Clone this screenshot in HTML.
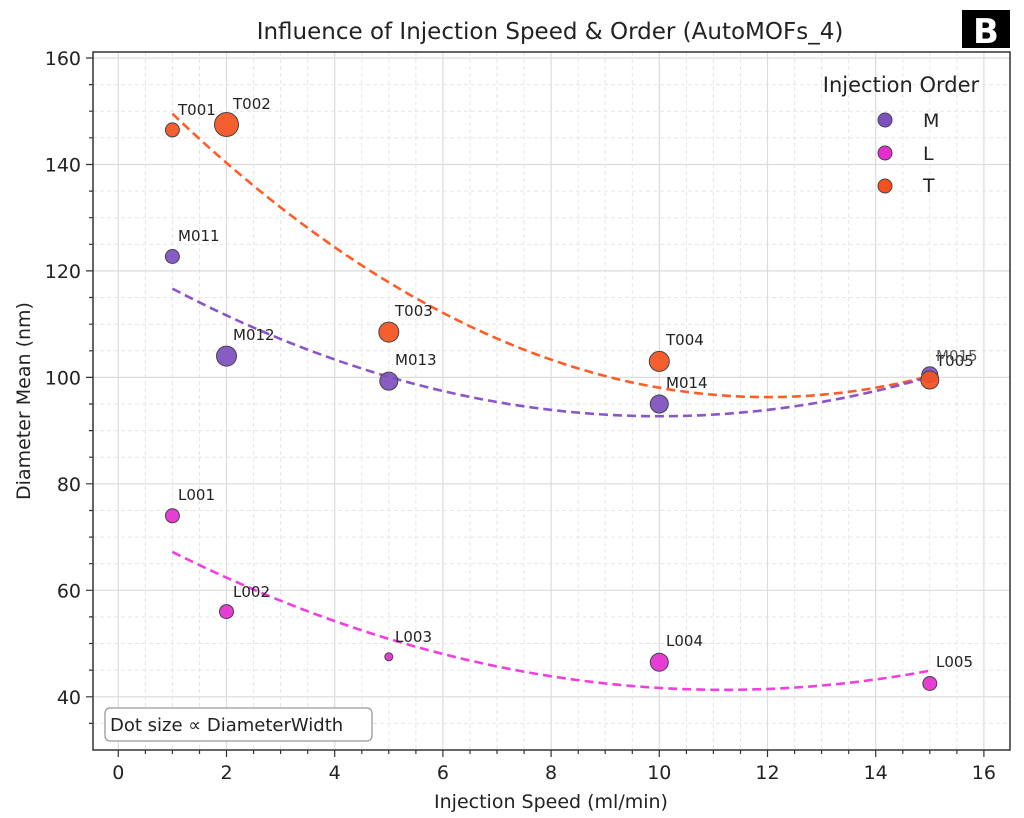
<!DOCTYPE html>
<html><head><meta charset="utf-8"><style>
html,body{margin:0;padding:0;background:#fff;}
svg{display:block;font-family:"DejaVu Sans","Liberation Sans",sans-serif;}
</style></head><body>
<svg width="1024" height="818" viewBox="0 0 1024 818" xmlns="http://www.w3.org/2000/svg">
<rect width="1024" height="818" fill="#fff"/>
<g stroke="#e6e6e6" stroke-width="1" stroke-dasharray="4,3">
<path d="M145.4 52V750M199.5 52V750M253.6 52V750M307.7 52V750M361.8 52V750M415.9 52V750M470 52V750M524.1 52V750M578.2 52V750M632.3 52V750M686.4 52V750M740.5 52V750M794.6 52V750M848.7 52V750M902.8 52V750M956.9 52V750
M172.4 52V750M280.6 52V750M388.8 52V750M497 52V750M605.2 52V750M713.4 52V750M821.6 52V750M929.8 52V750"/>
<path d="M93 84.6H1010M93 111.2H1010M93 137.8H1010M93 191.1H1010M93 217.7H1010M93 244.3H1010M93 297.5H1010M93 324.2H1010M93 350.8H1010M93 404H1010M93 430.6H1010M93 457.2H1010M93 510.5H1010M93 537.1H1010M93 563.7H1010M93 616.9H1010M93 643.5H1010M93 670.1H1010M93 723.4H1010"/>
</g>
<g stroke="#dcdcdc" stroke-width="1.2">
<path d="M118.3 52V750M226.5 52V750M334.7 52V750M442.9 52V750M551.1 52V750M659.3 52V750M767.5 52V750M875.7 52V750M983.9 52V750"/>
<path d="M93 58H1010M93 164.5H1010M93 270.9H1010M93 377.4H1010M93 483.8H1010M93 590.3H1010M93 696.8H1010"/>
</g>
<rect x="93" y="52" width="917" height="698" fill="none" stroke="#333" stroke-width="1.5"/>
<g stroke="#333" stroke-width="1.2">
<path d="M118.3 750v7M226.5 750v7M334.7 750v7M442.9 750v7M551.1 750v7M659.3 750v7M767.5 750v7M875.7 750v7M983.9 750v7"/>
<path d="M145.4 750v4M172.4 750v4M199.5 750v4M253.6 750v4M280.6 750v4M307.7 750v4M361.8 750v4M388.8 750v4M415.9 750v4M470 750v4M497 750v4M524.1 750v4M578.2 750v4M605.2 750v4M632.3 750v4M686.4 750v4M713.4 750v4M740.5 750v4M794.6 750v4M821.6 750v4M848.7 750v4M902.8 750v4M929.8 750v4M956.9 750v4"/>
<path d="M93 58h-7M93 164.5h-7M93 270.9h-7M93 377.4h-7M93 483.8h-7M93 590.3h-7M93 696.8h-7"/>
<path d="M93 84.6h-4M93 111.2h-4M93 137.8h-4M93 191.1h-4M93 217.7h-4M93 244.3h-4M93 297.5h-4M93 324.2h-4M93 350.8h-4M93 404h-4M93 430.6h-4M93 457.2h-4M93 510.5h-4M93 537.1h-4M93 563.7h-4M93 616.9h-4M93 643.5h-4M93 670.1h-4M93 723.4h-4"/>
</g>
<g font-size="19" fill="#222" text-anchor="middle">
<text x="118.3" y="779">0</text><text x="226.5" y="779">2</text><text x="334.7" y="779">4</text><text x="442.9" y="779">6</text><text x="551.1" y="779">8</text><text x="659.3" y="779">10</text><text x="767.5" y="779">12</text><text x="875.7" y="779">14</text><text x="983.9" y="779">16</text>
</g>
<g font-size="19" fill="#222" text-anchor="end">
<text x="81" y="65">160</text><text x="81" y="171.5">140</text><text x="81" y="277.9">120</text><text x="81" y="384.4">100</text><text x="81" y="490.8">80</text><text x="81" y="597.3">60</text><text x="81" y="703.8">40</text>
</g>
<text x="551" y="808" font-size="19" fill="#222" text-anchor="middle">Injection Speed (ml/min)</text>
<text transform="translate(30 401) rotate(-90)" font-size="19" fill="#222" text-anchor="middle">Diameter Mean (nm)</text>
<text x="550" y="39" font-size="23" fill="#222" text-anchor="middle">Influence of Injection Speed &amp; Order (AutoMOFs_4)</text>
<rect x="962" y="10" width="48" height="38" fill="#000"/>
<text x="986" y="43" font-size="34" font-weight="bold" fill="#fff" text-anchor="middle">B</text>
<g fill="none" stroke-width="2.6" stroke-dasharray="9,5">
<path d="M172.4 113.7Q551.1 474.4 929.8 376" stroke="#ff5c26"/>
<path d="M172.4 288.6Q551.1 487.1 929.8 376.8" stroke="#8a55c8"/>
<path d="M172.4 551.9Q551.1 741.2 929.8 670.7" stroke="#f03ee0"/>
</g>
<g stroke="#444" stroke-width="1" fill-opacity="0.92">
<g fill="#7e4fbe">
<circle cx="172.4" cy="256.5" r="7"/><circle cx="226.5" cy="356.1" r="10"/><circle cx="388.8" cy="381.1" r="9"/><circle cx="659.3" cy="404" r="9"/><circle cx="929.8" cy="374.7" r="8"/>
</g>
<g fill="#e52dd0">
<circle cx="172.4" cy="515.8" r="7"/><circle cx="226.5" cy="611.6" r="7"/><circle cx="388.8" cy="656.8" r="4"/><circle cx="659.3" cy="662.2" r="9"/><circle cx="929.8" cy="683.5" r="7"/>
</g>
<g fill="#f4511e">
<circle cx="172.4" cy="129.9" r="7"/><circle cx="226.5" cy="124.5" r="12"/><circle cx="388.8" cy="332.1" r="10"/><circle cx="659.3" cy="361.4" r="10"/><circle cx="929.8" cy="380" r="9"/>
</g>
</g>
<g font-size="15" fill="#222">
<text x="178" y="115">T001</text><text x="233" y="109">T002</text><text x="395" y="316">T003</text><text x="666" y="345">T004</text><text x="936" y="366">T005</text>
<text x="178" y="241">M011</text><text x="233" y="340">M012</text><text x="395" y="365">M013</text><text x="666" y="388">M014</text><text x="936" y="361" fill="#555">M015</text>
<text x="178" y="500">L001</text><text x="233" y="597">L002</text><text x="395" y="642">L003</text><text x="666" y="646">L004</text><text x="936" y="667">L005</text>
</g>
<text x="901" y="92" font-size="21" fill="#222" text-anchor="middle">Injection Order</text>
<g stroke="#444" stroke-width="1">
<circle cx="885" cy="120" r="7" fill="#7e4fbe"/>
<circle cx="885" cy="153" r="7" fill="#e52dd0"/>
<circle cx="885" cy="186" r="7" fill="#f4511e"/>
</g>
<g font-size="19" fill="#222">
<text x="923" y="127">M</text><text x="923" y="160">L</text><text x="923" y="192">T</text>
</g>
<rect x="105" y="708" width="267" height="33" rx="5" fill="#fff" stroke="#999" stroke-width="1.3"/>
<text x="110" y="731" font-size="18" fill="#222">Dot size ∝ DiameterWidth</text>
</svg>
</body></html>
